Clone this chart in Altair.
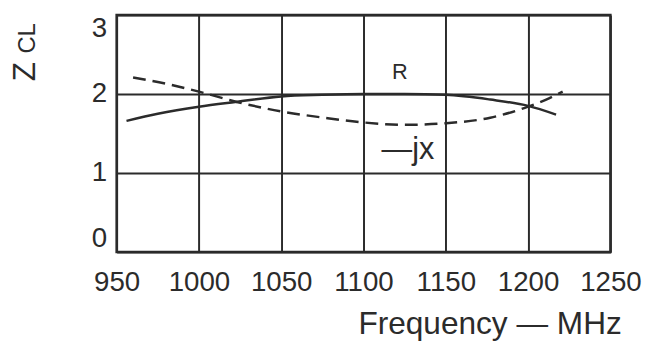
import altair as alt
import pandas as pd

# R curve (solid)
freq_r = [956, 975, 1000, 1022, 1050, 1075, 1100, 1125, 1150, 1177, 1200, 1217]
val_r = [1.66, 1.75, 1.84, 1.90, 1.97, 1.99, 2.00, 2.00, 1.99, 1.93, 1.85, 1.74]

# -jx curve (dashed)
freq_x = [960, 980, 1000, 1023, 1050, 1076, 1100, 1126, 1150, 1177, 1200, 1211, 1221]
val_x = [2.21, 2.13, 2.03, 1.90, 1.78, 1.70, 1.64, 1.61, 1.63, 1.70, 1.84, 1.93, 2.03]

x_ticks = [950, 1000, 1050, 1100, 1150, 1200, 1250]
y_ticks = [0, 1, 2, 3]

label_text = ["R", "\u2014jx"]
label_freq = [1122, 1127]
label_val = [2.28, 1.29]
label_size = [22, 31]

INK = "#2b2b2b"
FONT = "Liberation Sans"

df_r = pd.DataFrame({"f": freq_r, "v": val_r})
df_x = pd.DataFrame({"f": freq_x, "v": val_x})
df_l = pd.DataFrame({"t": label_text, "f": label_freq, "v": label_val, "s": label_size})

xs = alt.Scale(domain=[950, 1250], nice=False, zero=False)
ys = alt.Scale(domain=[0, 3], nice=False)

xaxis = alt.Axis(values=x_ticks, grid=True, ticks=False, domain=False, format="d",
                 labelOverlap=False, labelFlush=False,
                 labelFontSize=28, labelPadding=17, labelColor=INK, labelFont=FONT,
                 title="Frequency \u2014 MHz", titleFont=FONT, titleFontSize=32,
                 titleFontWeight="normal", titleColor=INK, titleAnchor="end",
                 titleAlign="right", titleX=511, titleY=82, titleBaseline="alphabetic")
yaxis = alt.Axis(values=y_ticks, grid=True, ticks=False, domain=False, format="d",
                 labelFlush=True, labelOverlap=False,
                 labelFontSize=28, labelPadding=10, labelColor=INK, labelFont=FONT,
                 title=None)

r_line = alt.Chart(df_r).mark_line(color=INK, strokeWidth=2.5, interpolate="monotone").encode(
    x=alt.X("f:Q", scale=xs, axis=xaxis),
    y=alt.Y("v:Q", scale=ys, axis=yaxis),
)
x_line = alt.Chart(df_x).mark_line(color=INK, strokeWidth=2.5, strokeDash=[13, 7],
                                   interpolate="monotone").encode(
    x=alt.X("f:Q", scale=xs),
    y=alt.Y("v:Q", scale=ys),
)
labels = alt.Chart(df_l).mark_text(color=INK, font=FONT, baseline="middle", align="center").encode(
    x=alt.X("f:Q", scale=xs),
    y=alt.Y("v:Q", scale=ys),
    text="t:N",
    size=alt.Size("s:Q", scale=None, legend=None),
)

ytitle_df = pd.DataFrame({"t": ["Z", "CL"], "s": [32, 24], "px": [-83, -83], "py": [67, 39]})
ytitle = alt.Chart(ytitle_df).mark_text(color=INK, font=FONT, align="left",
                                        baseline="alphabetic").encode(
    x=alt.X("px:Q", scale=None),
    y=alt.Y("py:Q", scale=None),
    text="t:N",
    angle=alt.value(270),
    size=alt.Size("s:Q", scale=None, legend=None),
)

chart = alt.layer(r_line, x_line, labels, ytitle).properties(
    width=500, height=240,
    autosize=alt.AutoSizeParams(type="none"),
    padding={"left": 110, "top": 5, "right": 32, "bottom": 90},
    background="white",
).configure_view(
    stroke=INK, strokeWidth=2.5
).configure_axis(
    gridColor=INK, gridWidth=2, gridOpacity=1
)

chart.save("out.html", embed_options={"renderer": "svg", "actions": False})
